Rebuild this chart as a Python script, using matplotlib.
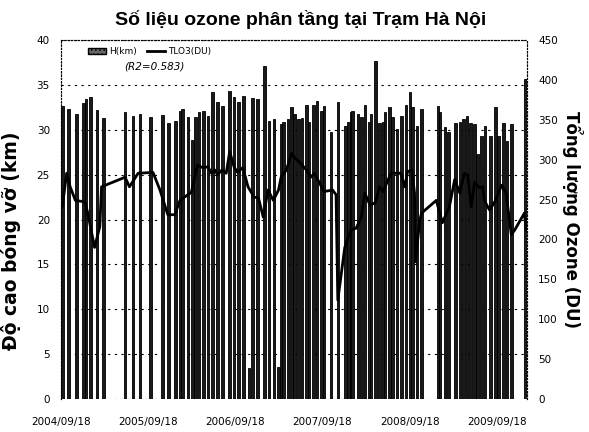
import matplotlib
matplotlib.use("Agg")
import matplotlib.pyplot as plt
from matplotlib.patches import Patch
from matplotlib.lines import Line2D

# ---- data (decimal years) ----
bar_years = [2004.73, 2004.80, 2004.89, 2004.97, 2005.00, 2005.05, 2005.13, 2005.20, 2005.45, 2005.54,
             2005.62, 2005.74, 2005.88, 2005.95, 2006.03, 2006.08, 2006.11, 2006.17, 2006.22, 2006.26,
             2006.30, 2006.35, 2006.40, 2006.45, 2006.51, 2006.57, 2006.65, 2006.70, 2006.75, 2006.81,
             2006.87, 2006.91, 2006.97, 2007.05, 2007.10, 2007.16, 2007.21, 2007.24, 2007.27, 2007.32,
             2007.36, 2007.39, 2007.44, 2007.48, 2007.53, 2007.56, 2007.61, 2007.65, 2007.70, 2007.73,
             2007.81, 2007.89, 2007.98, 2008.01, 2008.04, 2008.06, 2008.12, 2008.16, 2008.20, 2008.25,
             2008.27, 2008.32, 2008.37, 2008.41, 2008.43, 2008.48, 2008.52, 2008.57, 2008.62, 2008.67,
             2008.72, 2008.75, 2008.80, 2008.85, 2009.04, 2009.06, 2009.12, 2009.16, 2009.24, 2009.29,
             2009.33, 2009.37, 2009.41, 2009.46, 2009.49, 2009.54, 2009.58, 2009.64, 2009.70, 2009.73,
             2009.79, 2009.83, 2009.88, 2010.04]
H_km = [32.6, 32.3, 31.8, 33.0, 33.4, 33.7, 32.2, 31.3, 32.0, 31.5,
        31.7, 31.4, 31.6, 30.8, 31.0, 32.1, 32.3, 31.4, 28.9, 31.4,
        32.0, 32.1, 31.5, 34.2, 33.1, 32.6, 34.3, 33.7, 33.1, 33.8,
        3.5, 33.5, 33.4, 37.1, 31.0, 31.2, 3.6, 30.6, 30.9, 31.2,
        32.5, 31.7, 31.2, 31.3, 32.8, 30.9, 32.8, 33.2, 32.1, 32.6,
        29.8, 33.1, 30.4, 30.9, 32.0, 32.1, 31.7, 31.4, 32.8, 30.9,
        31.7, 37.7, 30.8, 30.9, 32.0, 32.5, 31.4, 30.1, 31.5, 32.8,
        34.2, 32.5, 30.4, 32.3, 32.6, 32.0, 30.3, 29.8, 30.8, 30.9,
        31.2, 31.5, 30.8, 30.6, 27.3, 29.3, 30.4, 29.3, 32.5, 29.3,
        30.8, 28.7, 30.6, 35.6]

line_years = [2004.73, 2004.78, 2004.82, 2004.88, 2004.99, 2005.02, 2005.10, 2005.16, 2005.18, 2005.45,
              2005.50, 2005.60, 2005.77, 2005.85, 2005.94, 2006.02, 2006.08, 2006.13, 2006.21, 2006.28,
              2006.34, 2006.40, 2006.44, 2006.48, 2006.51, 2006.56, 2006.61, 2006.65, 2006.70, 2006.74,
              2006.80, 2006.86, 2006.93, 2006.98, 2007.035, 2007.09, 2007.15, 2007.21, 2007.24, 2007.30,
              2007.36, 2007.39, 2007.45, 2007.53, 2007.58, 2007.62, 2007.68, 2007.73, 2007.83, 2007.87,
              2007.89, 2007.97, 2008.04, 2008.10, 2008.16, 2008.20, 2008.26, 2008.32, 2008.37, 2008.41,
              2008.44, 2008.50, 2008.555, 2008.61, 2008.66, 2008.69, 2008.74, 2008.77, 2008.78, 2008.83,
              2008.85, 2009.02, 2009.09, 2009.17, 2009.23, 2009.29, 2009.34, 2009.38, 2009.42, 2009.46,
              2009.51, 2009.55, 2009.57, 2009.63, 2009.69, 2009.77, 2009.82, 2009.88, 2009.92, 2010.03,
              2010.05]
TLO3_DU = [241, 283, 266, 249, 247, 234, 190, 216, 266, 278,
           266, 283, 284, 262, 231, 231, 249, 253, 259, 293,
           290, 291, 283, 287, 281, 287, 283, 310, 291, 284,
           290, 266, 253, 252, 228, 262, 249, 262, 278, 287,
           308, 303, 297, 287, 278, 283, 271, 260, 262, 256,
           124, 190, 212, 214, 228, 258, 243, 246, 266, 260,
           268, 283, 283, 283, 266, 285, 287, 258, 172, 224,
           233, 249, 221, 241, 275, 258, 283, 281, 241, 272,
           265, 266, 249, 237, 247, 268, 258, 206, 212, 233,
           212]

tick_years = [2004.715, 2005.715, 2006.715, 2007.715, 2008.715, 2009.715]
tick_labels = ["2004/09/18", "2005/09/18", "2006/09/18", "2007/09/18", "2008/09/18", "2009/09/18"]

title = "Số liệu ozone phân tầng tại Trạm Hà Nội"
left_label = "Độ cao bóng vỡ (km)"
right_label = "Tổng lượng Ozone (DU)"

plt.rcParams['font.family'] = ['DejaVu Sans']
plt.rcParams['hatch.color'] = '#888888'
plt.rcParams['hatch.linewidth'] = 0.6

fig = plt.figure(figsize=(5.89, 4.32), dpi=100)
ax = fig.add_axes([61/589, 1-399/432, (527-61)/589, (399-40)/432])
ax2 = ax.twinx()

ax.bar(bar_years, H_km, width=0.03, color='#1a1a1a', edgecolor='black', linewidth=0.6, zorder=2)
ax.set_ylim(0, 40)
ax.set_yticks(range(0, 41, 5))
ax.set_xlim(2004.715, 2010.06)
ax.set_xticks(tick_years)
ax.set_xticklabels(tick_labels)
ax.yaxis.grid(True, linestyle=(0, (2, 4)), color='black', linewidth=0.8, zorder=0)
ax.set_axisbelow(True)

ax2.plot(line_years, TLO3_DU, color='black', linewidth=2.0, zorder=3)
ax2.set_ylim(0, 450)
ax2.set_yticks(range(0, 451, 50))

for a in (ax, ax2):
    for s in a.spines.values():
        s.set_linestyle((0, (1, 2)))
        s.set_linewidth(0.8)
    a.tick_params(length=0, labelsize=7.5, pad=8)
ax.tick_params(axis='x', pad=13)
ax.spines['bottom'].set_visible(False)
ax2.spines['bottom'].set_visible(False)

ax.set_ylabel(left_label, fontsize=13.5, fontweight='bold')
ax.yaxis.set_label_coords(-0.085, 0.44)
ax2.set_ylabel(right_label, fontsize=12, fontweight='bold', rotation=270, labelpad=18)

fig.text(0.51, 0.955, title, ha='center', va='center', fontsize=14, fontweight='bold',
         family='Liberation Sans')

handles = [Patch(facecolor='#666666', edgecolor='black', hatch='....'),
           Line2D([0], [0], color='black', linewidth=2.0)]
leg = ax.legend(handles, ["H(km)", "TLO3(DU)"], loc='upper left', bbox_to_anchor=(0.05, 0.99),
                ncol=2, frameon=False, fontsize=6.5, handlelength=2.0, columnspacing=1.2,
                handletextpad=0.3, borderaxespad=0.0)
ax.text(0.2, 0.925, "(R2=0.583)", transform=ax.transAxes, ha='center', va='center',
        fontsize=7.5, style='italic')

fig.savefig("out.png", dpi=100)
